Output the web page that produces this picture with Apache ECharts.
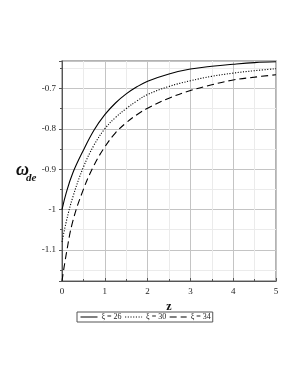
<!DOCTYPE html>
<html>
<head>
<meta charset="utf-8">
<script src="https://cdn.jsdelivr.net/npm/echarts@6/dist/echarts.min.js"></script>
<style>
html,body{margin:0;padding:0;background:#fff;}
#chart{width:298px;height:385px;}
</style>
</head>
<body>
<div id="chart"></div>
<script>
const zValues = [0, 0.1, 0.25, 0.5, 0.75, 1, 1.25, 1.5, 1.75, 2, 2.5, 3, 3.5, 4, 4.5, 5];
const xi26 = [-1, -0.958, -0.91, -0.853, -0.803, -0.765, -0.736, -0.7135, -0.696, -0.682, -0.664, -0.652, -0.645, -0.640, -0.636, -0.634];
const xi30 = [-1.08, -1.03, -0.97, -0.895, -0.84, -0.80, -0.772, -0.75, -0.731, -0.715, -0.695, -0.681, -0.670, -0.662, -0.656, -0.651];
const xi34 = [-1.177, -1.11, -1.03, -0.95, -0.89, -0.845, -0.81, -0.785, -0.765, -0.749, -0.724, -0.705, -0.691, -0.679, -0.672, -0.666];
const seriesNames = ['ξ = 26', 'ξ = 30', 'ξ = 34'];
const xTickLabels = ['0', '1', '2', '3', '4', '5'];
const yTickLabels = {'-0.7': '-0.7', '-0.8': '-0.8', '-0.9': '-0.9', '-1': '-1', '-1.1': '-1.1'};

const pair = arr => zValues.map((z, i) => [z, arr[i]]);
const serif = '"Liberation Serif","DejaVu Serif",serif';

const chart = echarts.init(document.getElementById('chart'), null, {renderer: 'canvas'});
const lineBase = {type: 'line', symbol: 'none', showSymbol: false, smooth: 0.4, silent: true};
chart.setOption({
  animation: false,
  backgroundColor: '#fff',
  grid: {left: 62, top: 61, width: 214, height: 220, show: true, borderColor: '#9a9a9a', borderWidth: 1.5, backgroundColor: 'transparent'},
  xAxis: {
    type: 'value', min: 0, max: 5, interval: 1,
    axisLine: {show: true, onZero: false, lineStyle: {color: '#555', width: 1}},
    axisTick: {show: true, inside: true, length: 3, lineStyle: {color: '#555'}},
    minorTick: {show: true, splitNumber: 2, length: 2, lineStyle: {color: '#555'}},
    splitLine: {show: true, lineStyle: {color: '#c4c4c4', width: 1}},
    minorSplitLine: {show: true, lineStyle: {color: '#ebebeb', width: 1}},
    axisLabel: {fontFamily: serif, fontSize: 9, color: '#222', margin: 6,
      formatter: v => xTickLabels[Math.round(v)] ?? ''},
    name: 'z', nameLocation: 'middle', nameGap: 18,
    nameTextStyle: {fontFamily: serif, fontSize: 12, fontWeight: 'bold', color: '#111'}
  },
  yAxis: {
    type: 'value', min: -1.177, max: -0.632, splitNumber: 5,
    axisLine: {show: true, onZero: false, lineStyle: {color: '#555', width: 1}},
    axisTick: {show: true, inside: false, length: 3, lineStyle: {color: '#555'}},
    minorTick: {show: true, splitNumber: 2, length: 2, lineStyle: {color: '#555'}},
    splitLine: {show: true, lineStyle: {color: '#c4c4c4', width: 1}},
    minorSplitLine: {show: true, lineStyle: {color: '#ebebeb', width: 1}},
    axisLabel: {fontFamily: serif, fontSize: 9, color: '#222', margin: 6,
      showMinLabel: false, showMaxLabel: false,
      formatter: v => { const k = String(Math.round(v * 10) / 10); return yTickLabels[k] && Math.abs(v * 10 - Math.round(v * 10)) < 1e-6 ? yTickLabels[k] : ''; }}
  },
  legend: {
    left: 77, top: 312, orient: 'horizontal',
    padding: [1, 2, 1, 3], itemGap: 3, itemWidth: 17, itemHeight: 8,
    borderColor: '#555', borderWidth: 1,
    itemStyle: {opacity: 0},
    lineStyle: {width: 1},
    textStyle: {fontFamily: serif, fontSize: 8, color: '#222', padding: [0, 0, 0, -1]},
    data: seriesNames
  },
  graphic: [
    {type: 'text', left: 16, top: 161, style: {text: 'ω', font: 'italic bold 18px ' + serif, fill: '#111'}},
    {type: 'text', left: 26, top: 173, style: {text: 'de', font: 'italic bold 11px ' + serif, fill: '#111'}}
  ],
  series: [
    Object.assign({}, lineBase, {name: seriesNames[0], data: pair(xi26), lineStyle: {color: '#000', width: 1.1, type: 'solid'}, itemStyle: {color: '#000'}}),
    Object.assign({}, lineBase, {name: seriesNames[1], data: pair(xi30), lineStyle: {color: '#000', width: 1.1, type: [1.1, 1.6]}, itemStyle: {color: '#000'}}),
    Object.assign({}, lineBase, {name: seriesNames[2], data: pair(xi34), lineStyle: {color: '#000', width: 1.1, type: [7, 4]}, itemStyle: {color: '#000'}})
  ]
});
</script>
</body>
</html>
